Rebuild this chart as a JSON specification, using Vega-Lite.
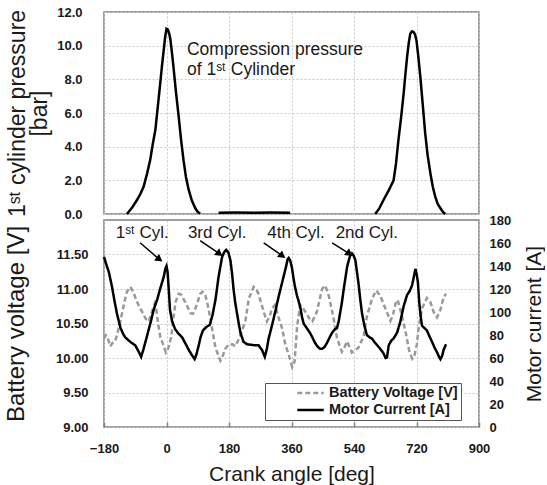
{
"$schema":"https://vega.github.io/schema/vega-lite/v6.json",
"padding":{"left":3,"top":5,"right":0,"bottom":0},
"bounds":"flush",
"config":{"font":"Liberation Sans","view":{"stroke":"#808080","strokeWidth":1.5},
"axis":{"labelFont":"Liberation Sans","labelFontSize":13,"labelFontWeight":"bold","labelColor":"#1a1a1a","labelOverlap":false,"labelFlush":false,"titleFont":"Liberation Sans","titleFontWeight":"normal","titleColor":"#1a1a1a","gridColor":"#c8c8c8","gridDash":[2,2],"gridWidth":1,"domain":false,"ticks":false},
"legend":{"labelFont":"Liberation Sans","labelFontSize":14.5,"labelFontWeight":"bold","labelColor":"#1a1a1a","labelLimit":300,"strokeColor":"#555555","fillColor":"white","padding":3,"symbolOffset":28,"symbolType":"stroke","symbolSize":700,"symbolStrokeWidth":2.5,"clipHeight":14,"rowPadding":2},
"concat":{"spacing":6}},
"datasets":{
"pressure":[
{"deg":-114,"p":0,"seg":"A"},{"deg":-100,"p":0.35,"seg":"A"},{"deg":-85,"p":0.83,"seg":"A"},{"deg":-75,"p":1.2,"seg":"A"},{"deg":-66,"p":1.62,"seg":"A"},{"deg":-56,"p":2.4,"seg":"A"},{"deg":-47,"p":3.2,"seg":"A"},{"deg":-40,"p":4.1,"seg":"A"},{"deg":-32,"p":5.0,"seg":"A"},{"deg":-25,"p":6.4,"seg":"A"},{"deg":-18,"p":7.77,"seg":"A"},{"deg":-12,"p":9.0,"seg":"A"},{"deg":-8,"p":9.74,"seg":"A"},{"deg":-4,"p":10.5,"seg":"A"},{"deg":0,"p":11.0,"seg":"A"},{"deg":4,"p":10.95,"seg":"A"},{"deg":8,"p":10.7,"seg":"A"},{"deg":11,"p":10.4,"seg":"A"},{"deg":15,"p":9.7,"seg":"A"},{"deg":20,"p":8.75,"seg":"A"},{"deg":27,"p":7.3,"seg":"A"},{"deg":35,"p":5.8,"seg":"A"},{"deg":42,"p":4.4,"seg":"A"},{"deg":49,"p":3.2,"seg":"A"},{"deg":56,"p":2.2,"seg":"A"},{"deg":64,"p":1.43,"seg":"A"},{"deg":73,"p":0.8,"seg":"A"},{"deg":83,"p":0.34,"seg":"A"},{"deg":90,"p":0.12,"seg":"A"},{"deg":97,"p":0.03,"seg":"A"},
{"deg":150,"p":0.08,"seg":"B"},{"deg":200,"p":0.09,"seg":"B"},{"deg":250,"p":0.08,"seg":"B"},{"deg":300,"p":0.09,"seg":"B"},{"deg":356,"p":0.08,"seg":"B"},
{"deg":601,"p":0,"seg":"C"},{"deg":612,"p":0.3,"seg":"C"},{"deg":625,"p":0.83,"seg":"C"},{"deg":640,"p":1.4,"seg":"C"},{"deg":654,"p":2.0,"seg":"C"},{"deg":661,"p":3.0,"seg":"C"},{"deg":668,"p":4.4,"seg":"C"},{"deg":676,"p":5.8,"seg":"C"},{"deg":683,"p":7.17,"seg":"C"},{"deg":688,"p":8.3,"seg":"C"},{"deg":693,"p":9.35,"seg":"C"},{"deg":698,"p":10.2,"seg":"C"},{"deg":702,"p":10.7,"seg":"C"},{"deg":707,"p":10.85,"seg":"C"},{"deg":712,"p":10.8,"seg":"C"},{"deg":716,"p":10.65,"seg":"C"},{"deg":720,"p":10.3,"seg":"C"},{"deg":725,"p":9.4,"seg":"C"},{"deg":731,"p":8.16,"seg":"C"},{"deg":738,"p":6.5,"seg":"C"},{"deg":745,"p":4.8,"seg":"C"},{"deg":752,"p":3.5,"seg":"C"},{"deg":760,"p":2.42,"seg":"C"},{"deg":767,"p":1.6,"seg":"C"},{"deg":774,"p":1.03,"seg":"C"},{"deg":781,"p":0.6,"seg":"C"},{"deg":789,"p":0.34,"seg":"C"},{"deg":796,"p":0.12,"seg":"C"},{"deg":803,"p":0,"seg":"C"}],
"ptext":[{"deg":59,"p":9.45,"t":"Compression pressure"},{"deg":59,"p":8.26,"t":"of 1ˢᵗ Cylinder"}],
"voltage":[
{"deg":-180,"v":10.28},{"deg":-175,"v":10.33},{"deg":-170,"v":10.3},{"deg":-162,"v":10.17},{"deg":-155,"v":10.22},{"deg":-148,"v":10.24},{"deg":-142,"v":10.34},{"deg":-133,"v":10.53},{"deg":-123,"v":10.77},{"deg":-114,"v":10.96},{"deg":-104,"v":11.03},{"deg":-95,"v":10.95},{"deg":-88,"v":10.85},{"deg":-78,"v":10.74},{"deg":-68,"v":10.65},{"deg":-60,"v":10.57},{"deg":-51,"v":10.53},{"deg":-42,"v":10.67},{"deg":-34,"v":10.79},{"deg":-30,"v":10.72},{"deg":-24,"v":10.5},{"deg":-18,"v":10.31},{"deg":-8,"v":10.17},{"deg":-2,"v":10.08},{"deg":6,"v":10.15},{"deg":14,"v":10.32},{"deg":20,"v":10.58},{"deg":26,"v":10.81},{"deg":35,"v":10.93},{"deg":42,"v":10.92},{"deg":54,"v":10.81},{"deg":69,"v":10.65},{"deg":76,"v":10.64},{"deg":85,"v":10.74},{"deg":97,"v":10.93},{"deg":104,"v":10.96},{"deg":112,"v":10.91},{"deg":121,"v":10.72},{"deg":131,"v":10.43},{"deg":141,"v":10.15},{"deg":155,"v":9.96},{"deg":160,"v":10.0},{"deg":169,"v":10.13},{"deg":178,"v":10.19},{"deg":190,"v":10.2},{"deg":198,"v":10.17},{"deg":206,"v":10.25},{"deg":213,"v":10.34},{"deg":227,"v":10.53},{"deg":237,"v":10.86},{"deg":251,"v":11.03},{"deg":258,"v":11.0},{"deg":265,"v":10.93},{"deg":280,"v":10.67},{"deg":289,"v":10.53},{"deg":297,"v":10.6},{"deg":304,"v":10.72},{"deg":313,"v":10.77},{"deg":323,"v":10.58},{"deg":333,"v":10.43},{"deg":342,"v":10.2},{"deg":352,"v":10.05},{"deg":362,"v":9.87},{"deg":369,"v":9.95},{"deg":376,"v":10.45},{"deg":385,"v":10.77},{"deg":393,"v":10.72},{"deg":400,"v":10.67},{"deg":414,"v":10.55},{"deg":420,"v":10.53},{"deg":433,"v":10.67},{"deg":448,"v":11.0},{"deg":457,"v":11.05},{"deg":466,"v":10.93},{"deg":474,"v":10.75},{"deg":482,"v":10.55},{"deg":491,"v":10.29},{"deg":505,"v":10.09},{"deg":512,"v":10.15},{"deg":520,"v":10.24},{"deg":527,"v":10.16},{"deg":534,"v":10.08},{"deg":545,"v":10.12},{"deg":553,"v":10.15},{"deg":568,"v":10.32},{"deg":577,"v":10.6},{"deg":592,"v":10.86},{"deg":604,"v":10.98},{"deg":616,"v":10.9},{"deg":630,"v":10.72},{"deg":645,"v":10.54},{"deg":652,"v":10.62},{"deg":662,"v":10.84},{"deg":667,"v":10.82},{"deg":675,"v":10.67},{"deg":688,"v":10.39},{"deg":700,"v":10.08},{"deg":708,"v":9.99},{"deg":714,"v":10.03},{"deg":721,"v":10.2},{"deg":726,"v":10.43},{"deg":736,"v":10.72},{"deg":750,"v":10.87},{"deg":760,"v":10.81},{"deg":769,"v":10.67},{"deg":779,"v":10.59},{"deg":789,"v":10.7},{"deg":798,"v":10.88},{"deg":805,"v":10.93}],
"current":[
{"deg":-180,"i":148},{"deg":-172,"i":140},{"deg":-166,"i":134.7},{"deg":-157,"i":122},{"deg":-150,"i":110},{"deg":-143,"i":99},{"deg":-133,"i":86.6},{"deg":-125,"i":81},{"deg":-119,"i":78},{"deg":-110,"i":75.5},{"deg":-104,"i":74},{"deg":-90,"i":71},{"deg":-80,"i":65.5},{"deg":-73,"i":61},{"deg":-66,"i":68},{"deg":-58,"i":77},{"deg":-51,"i":85},{"deg":-44,"i":93},{"deg":-37,"i":102},{"deg":-27,"i":110.6},{"deg":-18,"i":120.5},{"deg":-8,"i":130.5},{"deg":-3,"i":138},{"deg":0,"i":140},{"deg":3,"i":135},{"deg":6,"i":122},{"deg":10,"i":102},{"deg":16,"i":92},{"deg":25,"i":85},{"deg":35,"i":81},{"deg":45,"i":78},{"deg":52,"i":74},{"deg":59,"i":70},{"deg":66,"i":66},{"deg":73,"i":62.6},{"deg":81,"i":59},{"deg":86,"i":63},{"deg":92,"i":70},{"deg":98,"i":78},{"deg":105,"i":84},{"deg":115,"i":87},{"deg":125,"i":89},{"deg":133,"i":98},{"deg":141,"i":110.6},{"deg":150,"i":130.6},{"deg":160,"i":147.7},{"deg":166,"i":152},{"deg":172,"i":154},{"deg":178,"i":152},{"deg":184,"i":145},{"deg":189,"i":133},{"deg":193,"i":120},{"deg":198,"i":108},{"deg":203,"i":99},{"deg":208,"i":90},{"deg":213,"i":82},{"deg":222,"i":74},{"deg":232,"i":72},{"deg":241,"i":71.6},{"deg":255,"i":71},{"deg":265,"i":71},{"deg":270,"i":69},{"deg":275,"i":67},{"deg":283,"i":61},{"deg":289,"i":68},{"deg":294,"i":76.7},{"deg":301,"i":85},{"deg":308,"i":93.6},{"deg":316,"i":104},{"deg":323,"i":113.5},{"deg":330,"i":122},{"deg":337,"i":130.5},{"deg":344,"i":139},{"deg":349,"i":146},{"deg":352,"i":147},{"deg":356,"i":145},{"deg":361,"i":139},{"deg":366,"i":129},{"deg":370,"i":122},{"deg":376,"i":114},{"deg":380,"i":110},{"deg":386,"i":103},{"deg":390,"i":96},{"deg":395,"i":90},{"deg":405,"i":85.5},{"deg":413,"i":82},{"deg":420,"i":78},{"deg":428,"i":73},{"deg":435,"i":70},{"deg":442,"i":68},{"deg":448,"i":68},{"deg":455,"i":69.5},{"deg":462,"i":73},{"deg":470,"i":78},{"deg":477,"i":82},{"deg":485,"i":85},{"deg":491,"i":86},{"deg":496,"i":92},{"deg":500,"i":99},{"deg":505,"i":108},{"deg":510,"i":119},{"deg":515,"i":129},{"deg":520,"i":139},{"deg":525,"i":145},{"deg":529,"i":149},{"deg":534,"i":151},{"deg":539,"i":149},{"deg":544,"i":145},{"deg":548,"i":136},{"deg":553,"i":124.8},{"deg":558,"i":111},{"deg":563,"i":99},{"deg":570,"i":88},{"deg":577,"i":80},{"deg":585,"i":78},{"deg":592,"i":76.7},{"deg":600,"i":73.5},{"deg":611,"i":69.6},{"deg":618,"i":67},{"deg":625,"i":64},{"deg":631,"i":60},{"deg":635,"i":60.5},{"deg":640,"i":71},{"deg":647,"i":75},{"deg":654,"i":77},{"deg":664,"i":82},{"deg":673,"i":91},{"deg":678,"i":98},{"deg":683,"i":105},{"deg":693,"i":115},{"deg":700,"i":118},{"deg":707,"i":123},{"deg":712,"i":130},{"deg":717,"i":137.5},{"deg":721,"i":132},{"deg":724,"i":126},{"deg":728,"i":108},{"deg":732,"i":96},{"deg":736,"i":88},{"deg":743,"i":86},{"deg":750,"i":84},{"deg":757,"i":79},{"deg":765,"i":74},{"deg":772,"i":69},{"deg":779,"i":65},{"deg":785,"i":61},{"deg":789,"i":59},{"deg":794,"i":62},{"deg":798,"i":67},{"deg":805,"i":72}],
"cyl":[{"deg":-70,"v":11.81,"t":"1ˢᵗ Cyl."},{"deg":146,"v":11.81,"t":"3rd Cyl."},{"deg":373,"v":11.81,"t":"4th Cyl."},{"deg":577,"v":11.81,"t":"2nd Cyl."}],
"arrows":[{"deg":-76,"v":11.67,"deg2":-23,"v2":11.44},{"deg":97,"v":11.7,"deg2":150,"v2":11.52},{"deg":280,"v":11.67,"deg2":331,"v2":11.49},{"deg":477,"v":11.67,"deg2":524,"v2":11.52}]
},
"vconcat":[
{"width":375,"height":202,
"encoding":{
"x":{"field":"deg","type":"quantitative","scale":{"domain":[-180,900],"nice":false},"axis":{"values":[-180,0,180,360,540,720,900],"labels":false,"title":null}},
"y":{"field":"p","type":"quantitative","scale":{"domain":[0,12],"nice":false},"axis":{"values":[0,2,4,6,8,10,12],"labelOverlap":false,"format":".1f","labelPadding":22,"title":["1ˢᵗ cylinder pressure","[bar]"],"titleFontSize":23,"titleLineHeight":22,"titleAngle":-90,"titleBaseline":"top","titleAlign":"center","titleX":-98,"titleY":101}}},
"layer":[
{"data":{"name":"pressure"},"mark":{"type":"line","color":"black","strokeWidth":2.5},
"encoding":{"detail":{"field":"seg"}}},
{"data":{"name":"ptext"},"mark":{"type":"text","align":"left","baseline":"alphabetic","fontSize":17.5,"font":"Liberation Sans","color":"#1a1a1a"},
"encoding":{"text":{"field":"t"}}}
]},
{"width":375,"height":207,
"layer":[
{"layer":[
{"data":{"name":"voltage"},"mark":{"type":"line","strokeWidth":2.5},
"encoding":{"x":{"field":"deg","type":"quantitative","scale":{"domain":[-180,900],"nice":false},"axis":{"values":[-180,0,180,360,540,720,900],"title":"Crank angle [deg]","titleFontSize":21,"titlePadding":8,"labelPadding":20,"ticks":true,"tickSize":-5,"tickColor":"#808080","tickWidth":1.5}},
"y":{"field":"v","type":"quantitative","scale":{"domain":[9,12],"nice":false},"axis":{"values":[9,9.5,10,10.5,11,11.5],"format":".2f","labelPadding":16,"title":"Battery voltage [V]","titleFontSize":24,"titleAngle":-90,"titleBaseline":"top","titleAlign":"center","titleX":-100,"titleY":103.5}},
"color":{"datum":"Battery Voltage [V]","type":"nominal","scale":{"domain":["Battery Voltage [V]","Motor Current [A]"],"range":["#999999","#000000"]},"legend":{"orient":"none","legendX":161,"legendY":371,"title":null}},
"strokeDash":{"datum":"Battery Voltage [V]","type":"nominal","scale":{"domain":["Battery Voltage [V]","Motor Current [A]"],"range":[[5,3],[1,0]]},"legend":{"orient":"none","legendX":161,"legendY":371,"title":null}}}},
{"data":{"name":"arrows"},"mark":{"type":"rule","color":"black","strokeWidth":1.5},
"encoding":{"x":{"field":"deg","type":"quantitative"},"y":{"field":"v","type":"quantitative"},"x2":{"field":"deg2"},"y2":{"field":"v2"}}},
{"data":{"name":"arrows"},"mark":{"type":"point","shape":"triangle","filled":true,"color":"black","opacity":1,"size":70,"angle":127},
"encoding":{"x":{"field":"deg2","type":"quantitative"},"y":{"field":"v2","type":"quantitative"}}},
{"data":{"name":"cyl"},"mark":{"type":"text","align":"center","baseline":"middle","fontSize":17,"font":"Liberation Sans","color":"#1a1a1a"},
"encoding":{"x":{"field":"deg","type":"quantitative"},"y":{"field":"v","type":"quantitative"},"text":{"field":"t"}}}
]},
{"data":{"name":"current"},"mark":{"type":"line","strokeWidth":2.5},
"encoding":{"x":{"field":"deg","type":"quantitative"},
"y":{"field":"i","type":"quantitative","scale":{"domain":[0,180],"nice":false},"axis":{"orient":"right","values":[0,20,40,60,80,100,120,140,160,180],"format":"d","grid":false,"labelPadding":10,"title":"Motor current [A]","titleFontSize":21,"titleAngle":-90,"titleBaseline":"top","titleAlign":"center","titleX":44,"titleY":103.5}},
"color":{"datum":"Motor Current [A]","type":"nominal"},
"strokeDash":{"datum":"Motor Current [A]","type":"nominal"}}}
],
"resolve":{"scale":{"y":"independent"}}}
]
}
